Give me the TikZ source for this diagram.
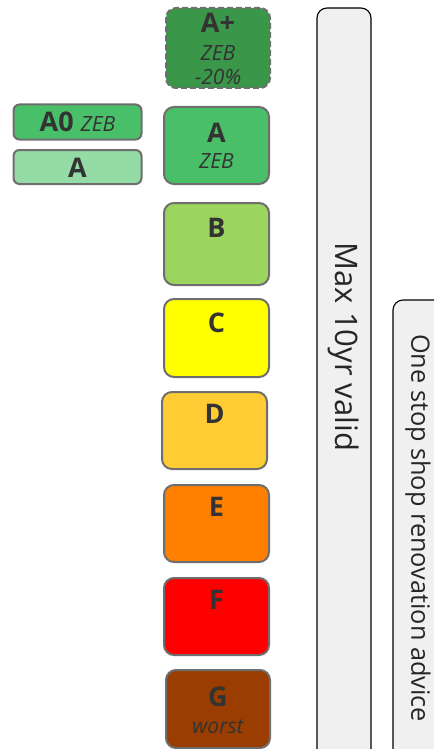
\documentclass[tikz,border=0pt]{standalone}
\usepackage{fontspec}
\setmainfont{Open Sans}
\definecolor{gAplus}{HTML}{3A9649}
\definecolor{gA}{HTML}{48BF68}
\definecolor{gAlight}{HTML}{94DBA6}
\definecolor{gB}{HTML}{9BD45E}
\definecolor{gC}{HTML}{FFFF00}
\definecolor{gD}{HTML}{FFCC33}
\definecolor{gE}{HTML}{FF8000}
\definecolor{gF}{HTML}{FF0000}
\definecolor{gG}{HTML}{993D00}
\definecolor{rim}{HTML}{6E6E6E}
\definecolor{ink}{HTML}{333333}
\definecolor{barfill}{HTML}{F0F0F0}
\tikzset{
  x=1pt, y=-1pt,
  grade/.style={draw=rim, line width=2pt, rounded corners=10pt, minimum width=#1, inner sep=0pt},
  grade/.default=104pt,
  small/.style={draw=rim, line width=2pt, rounded corners=6pt, inner sep=0pt, minimum width=128pt},
  letter/.style={text=ink, font=\bfseries\fontsize{27}{27}\selectfont, inner sep=0pt},
  note/.style={text=ink, font=\itshape\fontsize{21}{21}\selectfont, inner sep=0pt},
  bar/.style={draw=black, line width=1.1pt, fill=barfill, rounded corners=10pt},
  bartext/.style={text=black!85, rotate=-90, inner sep=0pt}
}
\begin{document}
\begin{tikzpicture}
\useasboundingbox (0,0) rectangle (434,749);
\clip (0,0) rectangle (434,749);
% validity and advice bars
\draw[bar] (317,8) rectangle (371,770);
\draw[bar] (393,300) rectangle (460,770);
\node[bartext, font=\fontsize{31}{31}\selectfont] (valid) at (344,347) {Max 10yr valid};
\node[bartext, font=\fontsize{25.3}{25.3}\selectfont] (advice) at (418,528) {One stop shop renovation advice};
% grade boxes
\node[grade, dash pattern=on 6pt off 3pt, fill=gAplus, minimum height=80pt] (Aplus) at (218,48) {};
\node[grade, fill=gA, minimum height=77pt, minimum width=105pt] (A) at (216.5,145.5) {};
\node[grade, fill=gB, minimum height=82pt, minimum width=105pt] (B) at (216.5,244) {};
\node[grade, fill=gC, minimum height=78pt, minimum width=105pt] (C) at (216.5,338) {};
\node[grade, fill=gD, minimum height=77pt, minimum width=105pt] (D) at (214.5,430.5) {};
\node[grade, fill=gE, minimum height=77pt, minimum width=105pt] (E) at (216.5,523.5) {};
\node[grade, fill=gF, minimum height=77pt, minimum width=105pt] (F) at (216.5,616.5) {};
\node[grade, fill=gG, minimum height=78pt, minimum width=104pt] (G) at (218,709) {};
% grade labels
\node[letter] (tAplus) at (218,23) {A+};
\node[note] (zAplus) at (218,53) {ZEB};
\node[note] (pAplus) at (218,77) {-20\%};
\node[letter] (tA) at (216.5,133) {A};
\node[note] (zA) at (216.5,161) {ZEB};
\node[letter] (tB) at (216.5,228) {B};
\node[letter] (tC) at (216.5,323) {C};
\node[letter] (tD) at (214.5,414) {D};
\node[letter] (tE) at (216.5,507) {E};
\node[letter] (tF) at (216.5,600) {F};
\node[letter] (tG) at (218,697) {G};
\node[note] (wG) at (218,727) {worst};
% side boxes
\node[small, fill=gA, minimum height=35pt] (A0) at (77.5,122) {};
\node[small, fill=gAlight, minimum height=34pt] (Alt) at (77.5,167) {};
\node[text=ink, inner sep=0pt] (tA0) at (77.5,122) {\bfseries\fontsize{27}{27}\selectfont A0 \itshape\mdseries\fontsize{21}{21}\selectfont ZEB};
\node[letter] (tAlt) at (77.5,168) {A};
\end{tikzpicture}
\end{document}
